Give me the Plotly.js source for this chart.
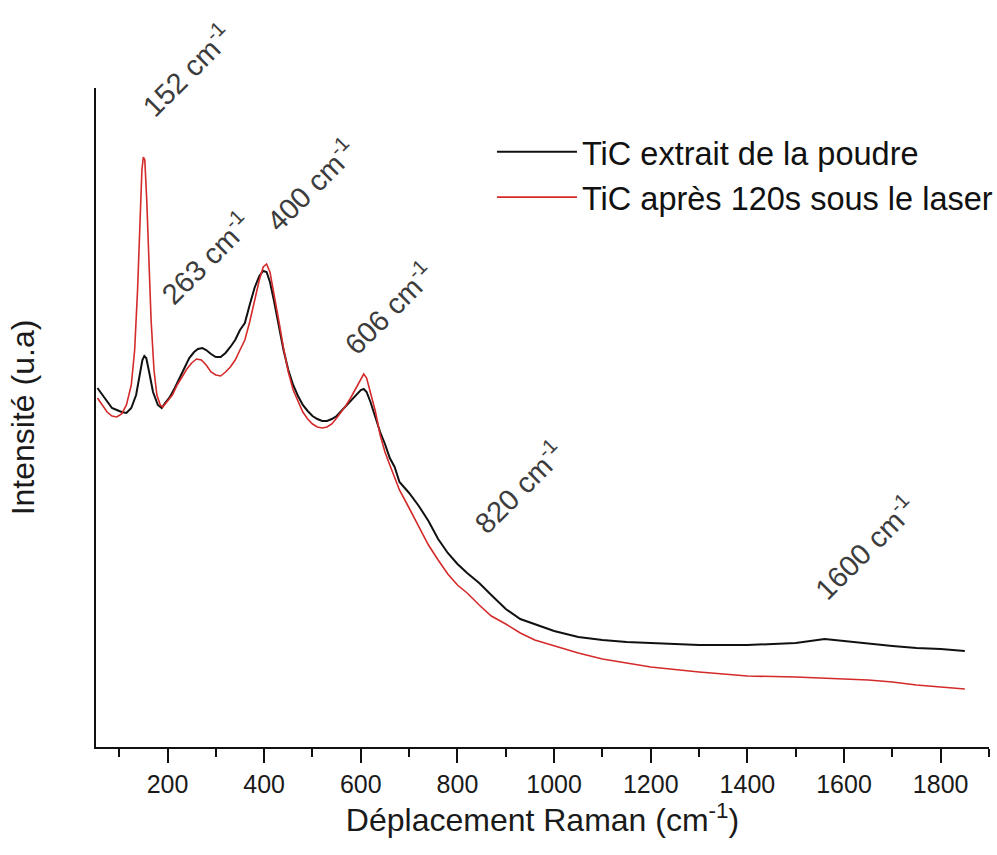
<!DOCTYPE html>
<html>
<head>
<meta charset="utf-8">
<script src="https://cdn.plot.ly/plotly-3.0.1.min.js"></script>
<style>html,body{margin:0;padding:0;background:#fff;}#chart{width:997px;height:855px;}</style>
</head>
<body>
<div id="chart"></div>
<script>
// Raman shift (cm-1) and intensity (a.u.)
var xPoudre = [55,65,75,85,95,105,115,125,135,142,148,152,156,162,170,180,188,195,205,215,225,235,245,255,263,272,280,290,300,310,320,330,340,350,360,370,380,390,398,405,412,420,430,440,450,460,470,480,490,500,510,520,530,540,550,560,570,580,590,600,606,612,620,630,640,650,660,670,680,700,720,740,760,780,800,820,845,870,900,930,960,980,1000,1050,1100,1150,1200,1250,1300,1400,1500,1560,1600,1650,1700,1750,1800,1850];
var yPoudre = [359,352,345,339,337,335,334,339,352,372,387,391,389,375,355,342,339,344,350,359,369,379,389,395,398,399,397,393,390,390,394,400,407,417,424,442,459,471,476,475,465,447,422,397,377,362,351,342,336,331,328,326,326,328,331,336,341,346,351,357,358,355,345,330,315,303,289,280,265,254,241,226,208,194,183,174,164,152,138,128,123,119,116,110,107,105,104,103,102,102,104,108,106,103,101,99,98,96];

var xLaser = [55,65,75,85,95,105,115,125,132,138,143,147,150,153,157,161,166,172,178,185,190,200,210,220,230,240,250,260,270,280,290,300,310,320,330,340,350,360,370,380,390,398,405,412,420,430,440,450,460,470,480,490,500,510,520,530,540,550,560,570,580,590,600,606,612,620,630,640,650,660,670,680,700,720,740,760,780,800,820,845,870,900,930,960,1000,1050,1100,1150,1200,1300,1400,1500,1600,1650,1700,1750,1800,1850];
var yLaser = [349,342,335,331,330,333,342,362,397,457,527,577,590,587,547,487,427,377,352,342,340,346,352,362,370,378,384,388,387,382,375,372,371,375,380,387,397,407,425,447,467,480,483,475,455,427,399,375,357,345,335,328,323,320,319,320,323,329,335,342,350,359,369,373,369,355,336,312,295,282,269,257,239,221,202,187,173,162,154,142,131,123,114,107,101,94,88,84,80,75,71,70,68,67,65,62,60,58];

var nomPoudre = "TiC extrait de la poudre";
var nomLaser = "TiC après 120s sous le laser";

// peak labels: text, shift position, and height (same a.u. scale as the intensities)
var picTextes = ["152 cm<sup>-1</sup>","263 cm<sup>-1</sup>","400 cm<sup>-1</sup>","606 cm<sup>-1</sup>","820 cm<sup>-1</sup>","1600 cm<sup>-1</sup>"];
var picX = [239,278,495,657,926,1643];
var picY = [677,489,562,439,260,200];

var xTickVals = [200,400,600,800,1000,1200,1400,1600,1800];
var yMax = 659;

var FONT = "Liberation Sans, Arial, sans-serif";

var traces = [
  {x: xPoudre, y: yPoudre, name: nomPoudre, type: "scatter", mode: "lines",
   line: {color: "#111111", width: 2}},
  {x: xLaser, y: yLaser, name: nomLaser, type: "scatter", mode: "lines",
   line: {color: "#d42a2a", width: 1.6}}
];

var annotations = picTextes.map(function (t, i) {
  return {x: picX[i], y: picY[i] / yMax, xref: "x", yref: "paper", text: t, showarrow: false,
          xanchor: "center", yanchor: "middle",
          textangle: -45, font: {family: FONT, size: 29, color: "#3c3c3c"}};
});

var layout = {
  width: 997, height: 855,
  paper_bgcolor: "#ffffff", plot_bgcolor: "#ffffff",
  margin: {l: 96, r: 8, t: 88, b: 108, autoexpand: false},
  font: {family: FONT, color: "#1a1a1a"},
  showlegend: true,
  legend: {x: 0.4434, y: 0.945, xanchor: "left", yanchor: "top",
           bgcolor: "rgba(0,0,0,0)", font: {family: FONT, size: 32.5, color: "#111"},
           itemwidth: 80, tracegroupgap: 0},
  xaxis: {
    range: [52, 1900], showline: true, linecolor: "#111", linewidth: 2,
    showgrid: false, zeroline: false,
    tickmode: "array", tickvals: xTickVals, ticktext: xTickVals.map(String),
    ticks: "outside", ticklen: 14, tickwidth: 2, tickcolor: "#111",
    tickfont: {family: FONT, size: 25, color: "#1a1a1a"},
    minor: {tickmode: "linear", tick0: 0, dtick: 100, ticks: "outside", ticklen: 8, tickwidth: 2, tickcolor: "#111", showgrid: false},
    automargin: false,
    title: {text: "Déplacement Raman (cm<sup>-1</sup>)", font: {family: FONT, size: 32, color: "#1a1a1a"}, standoff: 8}
  },
  yaxis: {
    range: [0, yMax], showline: true, linecolor: "#111", linewidth: 2,
    showgrid: false, zeroline: false, showticklabels: false, ticks: "",
    automargin: false,
    title: {text: "Intensité (u.a)", font: {family: FONT, size: 32, color: "#1a1a1a"}, standoff: 50}
  },
  annotations: annotations
};

Plotly.newPlot("chart", traces, layout, {displayModeBar: false, staticPlot: true});
</script>
</body>
</html>
